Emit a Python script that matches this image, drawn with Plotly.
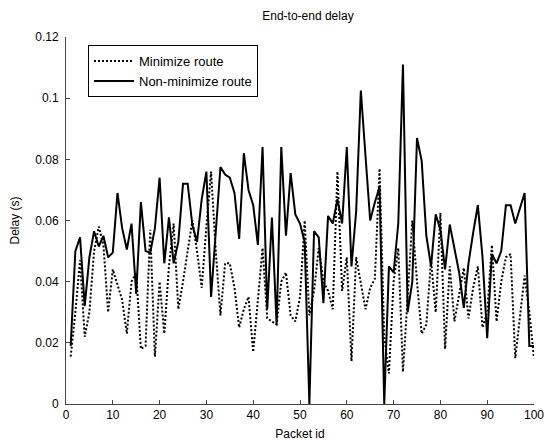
import plotly.graph_objects as go

packet_id = list(range(1, 101))

minimize_route = [
    0.0155, 0.030, 0.047, 0.022, 0.030, 0.050, 0.058, 0.052, 0.030, 0.044,
    0.039, 0.034, 0.023, 0.040, 0.043, 0.018, 0.019, 0.057, 0.0155, 0.040,
    0.023, 0.045, 0.059, 0.031, 0.040, 0.050, 0.060, 0.050, 0.038, 0.058,
    0.076, 0.050, 0.029, 0.046, 0.046, 0.038, 0.025, 0.031, 0.035, 0.017,
    0.033, 0.051, 0.028, 0.027, 0.026, 0.040, 0.043, 0.029, 0.027, 0.035,
    0.060, 0.029, 0.037, 0.051, 0.040, 0.037, 0.031, 0.076, 0.037, 0.048,
    0.014, 0.048, 0.040, 0.031, 0.038, 0.041, 0.077, 0.022, 0.010, 0.040,
    0.051, 0.0105, 0.035, 0.060, 0.040, 0.023, 0.026, 0.047, 0.030, 0.0625,
    0.018, 0.045, 0.027, 0.036, 0.0445, 0.028, 0.038, 0.045, 0.025, 0.030,
    0.052, 0.027, 0.040, 0.048, 0.049, 0.015, 0.028, 0.042, 0.030, 0.015,
]

non_minimize_route = [
    0.019, 0.050, 0.0545, 0.032, 0.048, 0.0565, 0.0515, 0.055, 0.048, 0.0495,
    0.069, 0.0575, 0.0505, 0.059, 0.036, 0.066, 0.050, 0.0495, 0.0575, 0.074,
    0.046, 0.061, 0.046, 0.053, 0.072, 0.072, 0.0585, 0.053, 0.067, 0.076,
    0.035, 0.056, 0.0775, 0.075, 0.074, 0.069, 0.054, 0.082, 0.070, 0.065,
    0.052, 0.084, 0.031, 0.061, 0.026, 0.084, 0.055, 0.0755, 0.062, 0.059,
    0.053, 0.0, 0.0565, 0.0545, 0.033, 0.0615, 0.059, 0.067, 0.059, 0.084,
    0.045, 0.063, 0.1025, 0.081, 0.060, 0.066, 0.071, 0.0, 0.045, 0.043,
    0.059, 0.111, 0.030, 0.040, 0.087, 0.0795, 0.055, 0.045, 0.062, 0.057,
    0.044, 0.0587, 0.051, 0.043, 0.0314, 0.046, 0.056, 0.065, 0.048, 0.0215,
    0.049, 0.046, 0.050, 0.065, 0.065, 0.059, 0.064, 0.069, 0.019, 0.019,
]

x_ticks = [0, 10, 20, 30, 40, 50, 60, 70, 80, 90, 100]
y_ticks = [0, 0.02, 0.04, 0.06, 0.08, 0.1, 0.12]
y_tick_labels = ["0", "0.02", "0.04", "0.06", "0.08", "0.1", "0.12"]

FONT = "Liberation Sans, Arial, Helvetica, sans-serif"

fig = go.Figure()
fig.add_trace(go.Scatter(
    x=packet_id, y=minimize_route, mode="lines", name="Minimize route",
    line=dict(color="black", width=2, dash="2px,2px"),
))
fig.add_trace(go.Scatter(
    x=packet_id, y=non_minimize_route, mode="lines", name="Non-minimize route",
    line=dict(color="black", width=2),
))

fig.update_layout(
    width=557, height=442,
    margin=dict(l=58, r=31, t=29, b=46, autoexpand=False),
    paper_bgcolor="white", plot_bgcolor="white",
    font=dict(family=FONT, size=12, color="black"),
    title=dict(text="End-to-end delay", x=0.5385, xanchor="center",
               y=1 - 8 / 442, yanchor="middle", pad=dict(t=0, b=0),
               font=dict(family=FONT, size=12, color="black")),
    showlegend=True,
    legend=dict(x=0.047, y=0.978, xanchor="left", yanchor="top",
                bgcolor="white", bordercolor="black", borderwidth=1,
                font=dict(family=FONT, size=13, color="black"),
                tracegroupgap=0, itemwidth=40),
    xaxis=dict(range=[0, 100], tickvals=x_ticks, ticks="inside", ticklen=4,
               tickcolor="#444", showline=True, linecolor="#444", linewidth=1,
               showgrid=False, zeroline=False, mirror=False, automargin=False,
               ticklabelstandoff=0,
               title=dict(text="Packet id", standoff=8, font=dict(size=12)),
               tickfont=dict(size=12)),
    yaxis=dict(range=[0, 0.12], tickvals=y_ticks, ticktext=y_tick_labels,
               ticks="inside", ticklen=4, tickcolor="#444", showline=True,
               linecolor="#444", linewidth=1, showgrid=False, zeroline=False,
               mirror=False, automargin=False, ticklabelstandoff=4,
               title=dict(text="Delay (s)", standoff=15, font=dict(size=12)),
               tickfont=dict(size=12)),
)

fig.write_html("out.html")
